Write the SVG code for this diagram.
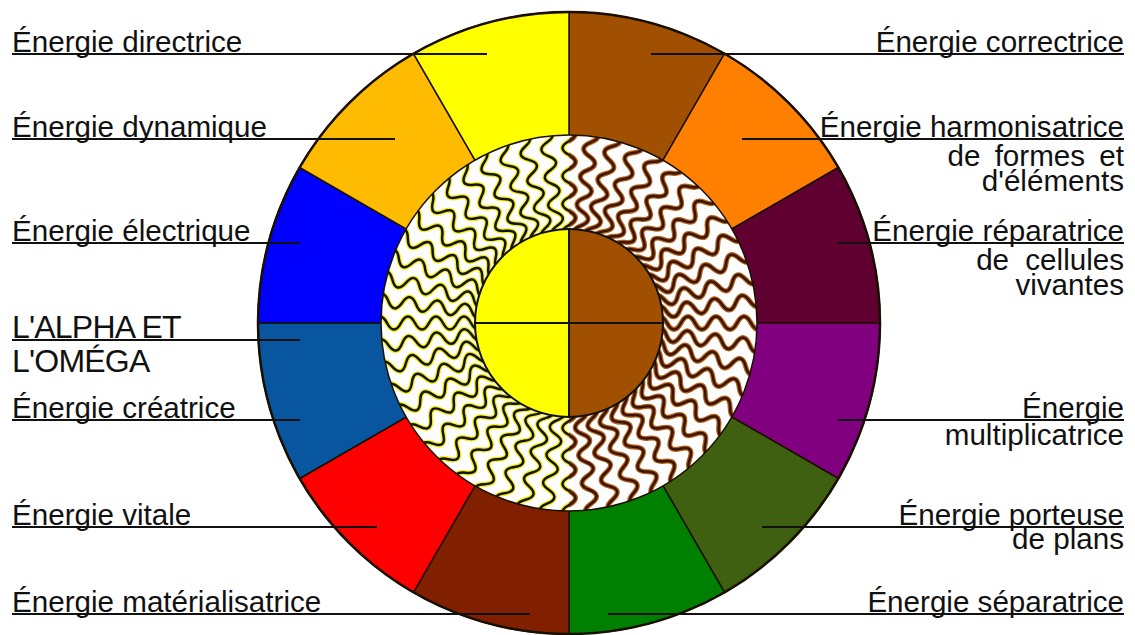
<svg xmlns="http://www.w3.org/2000/svg" xmlns:xlink="http://www.w3.org/1999/xlink" width="1135" height="635" viewBox="0 0 1135 635">
<style>
.lbl{font-family:"Liberation Sans",Arial,sans-serif;font-size:29.6px;fill:#111}
.r{text-anchor:end}
.sec{stroke:#1a1000;stroke-width:1.5}
.ul{stroke:#111;stroke-width:2;fill:none}
</style>
<defs>
<path id="w" d="M84,0 q7,-13 14,0 t14,0 t14,0 t14,0 t14,0 t14,0 t14,0 t14,0" fill="none"/>
<g id="spokes">
<use href="#w" transform="rotate(0)"/><use href="#w" transform="rotate(6.923)"/><use href="#w" transform="rotate(13.846)"/><use href="#w" transform="rotate(20.769)"/><use href="#w" transform="rotate(27.692)"/><use href="#w" transform="rotate(34.615)"/><use href="#w" transform="rotate(41.538)"/><use href="#w" transform="rotate(48.462)"/><use href="#w" transform="rotate(55.385)"/><use href="#w" transform="rotate(62.308)"/><use href="#w" transform="rotate(69.231)"/><use href="#w" transform="rotate(76.154)"/><use href="#w" transform="rotate(83.077)"/><use href="#w" transform="rotate(90)"/><use href="#w" transform="rotate(96.923)"/><use href="#w" transform="rotate(103.846)"/><use href="#w" transform="rotate(110.769)"/><use href="#w" transform="rotate(117.692)"/><use href="#w" transform="rotate(124.615)"/><use href="#w" transform="rotate(131.538)"/><use href="#w" transform="rotate(138.462)"/><use href="#w" transform="rotate(145.385)"/><use href="#w" transform="rotate(152.308)"/><use href="#w" transform="rotate(159.231)"/><use href="#w" transform="rotate(166.154)"/><use href="#w" transform="rotate(173.077)"/><use href="#w" transform="rotate(180)"/><use href="#w" transform="rotate(186.923)"/><use href="#w" transform="rotate(193.846)"/><use href="#w" transform="rotate(200.769)"/><use href="#w" transform="rotate(207.692)"/><use href="#w" transform="rotate(214.615)"/><use href="#w" transform="rotate(221.538)"/><use href="#w" transform="rotate(228.462)"/><use href="#w" transform="rotate(235.385)"/><use href="#w" transform="rotate(242.308)"/><use href="#w" transform="rotate(249.231)"/><use href="#w" transform="rotate(256.154)"/><use href="#w" transform="rotate(263.077)"/><use href="#w" transform="rotate(270)"/><use href="#w" transform="rotate(276.923)"/><use href="#w" transform="rotate(283.846)"/><use href="#w" transform="rotate(290.769)"/><use href="#w" transform="rotate(297.692)"/><use href="#w" transform="rotate(304.615)"/><use href="#w" transform="rotate(311.538)"/><use href="#w" transform="rotate(318.462)"/><use href="#w" transform="rotate(325.385)"/><use href="#w" transform="rotate(332.308)"/><use href="#w" transform="rotate(339.231)"/><use href="#w" transform="rotate(346.154)"/><use href="#w" transform="rotate(353.077)"/>
</g>
<clipPath id="clipL"><path d="M569,135 A188,188 0 0 0 569,511 Z"/></clipPath>
<clipPath id="clipR"><path d="M569,135 A188,188 0 0 1 569,511 Z"/></clipPath>
</defs>

<g id="wheel">
<path class="sec" fill="#a05000" d="M569,323 L724.5,53.67 A311,311 0 0 0 569,12 Z"/>
<path class="sec" fill="#ff8000" d="M569,323 L838.33,167.5 A311,311 0 0 0 724.5,53.67 Z"/>
<path class="sec" fill="#600030" d="M569,323 L880,323 A311,311 0 0 0 838.33,167.5 Z"/>
<path class="sec" fill="#800080" d="M569,323 L838.33,478.5 A311,311 0 0 0 880,323 Z"/>
<path class="sec" fill="#3f6010" d="M569,323 L724.5,592.33 A311,311 0 0 0 838.33,478.5 Z"/>
<path class="sec" fill="#008000" d="M569,323 L569,634 A311,311 0 0 0 724.5,592.33 Z"/>
<path class="sec" fill="#802000" d="M569,323 L413.5,592.33 A311,311 0 0 0 569,634 Z"/>
<path class="sec" fill="#ff0000" d="M569,323 L299.67,478.5 A311,311 0 0 0 413.5,592.33 Z"/>
<path class="sec" fill="#0856a0" d="M569,323 L258,323 A311,311 0 0 0 299.67,478.5 Z"/>
<path class="sec" fill="#0000ff" d="M569,323 L299.67,167.5 A311,311 0 0 0 258,323 Z"/>
<path class="sec" fill="#ffbb00" d="M569,323 L413.5,53.67 A311,311 0 0 0 299.67,167.5 Z"/>
<path class="sec" fill="#ffff00" d="M569,323 L569,12 A311,311 0 0 0 413.5,53.67 Z"/>
<circle cx="569" cy="323" r="311" fill="none" stroke="#1a1000" stroke-width="2.5"/>
</g>

<g id="ring">
<circle cx="569" cy="323" r="188" fill="#fdfdfd"/>
<g clip-path="url(#clipL)">
<use href="#spokes" transform="translate(569,323)" stroke="#f2ee10" stroke-width="5"/>
<use href="#spokes" transform="translate(569,323)" stroke="#141400" stroke-width="2.5"/>
</g>
<g clip-path="url(#clipR)">
<use href="#spokes" transform="translate(569,323)" stroke="#b06018" stroke-width="5"/>
<use href="#spokes" transform="translate(569,323)" stroke="#3a1400" stroke-width="2.5"/>
</g>
<circle cx="569" cy="323" r="188" fill="none" stroke="#1a1000" stroke-width="1.5"/>
</g>

<g id="core">
<path fill="#ffff00" d="M569,229 A94,94 0 0 0 569,417 Z"/>
<path fill="#a05000" d="M569,229 A94,94 0 0 1 569,417 Z"/>
<line x1="569" y1="229" x2="569" y2="417" stroke="#111" stroke-width="2"/>
<line x1="475" y1="323" x2="663" y2="323" stroke="#111" stroke-width="2"/>
<circle cx="569" cy="323" r="94" fill="none" stroke="#111" stroke-width="2"/>
</g>

<g id="connectors">
<line class="ul" x1="12" y1="54" x2="487" y2="54"/>
<line class="ul" x1="12" y1="139" x2="395" y2="139"/>
<line class="ul" x1="12" y1="243" x2="300" y2="243"/>
<line class="ul" x1="12" y1="340" x2="300" y2="340"/>
<line class="ul" x1="12" y1="420" x2="300" y2="420"/>
<line class="ul" x1="12" y1="527" x2="377" y2="527"/>
<line class="ul" x1="12" y1="614" x2="530" y2="614"/>
<line class="ul" x1="651" y1="54" x2="1124" y2="54"/>
<line class="ul" x1="742" y1="139" x2="1124" y2="139"/>
<line class="ul" x1="838" y1="243" x2="1124" y2="243"/>
<line class="ul" x1="838" y1="420" x2="1124" y2="420"/>
<line class="ul" x1="762" y1="527" x2="1124" y2="527"/>
<line class="ul" x1="608" y1="614" x2="1124" y2="614"/>
</g>

<g id="label-directrice"><text class="lbl" x="12" y="52">Énergie directrice</text></g>
<g id="label-dynamique"><text class="lbl" x="12" y="137">Énergie dynamique</text></g>
<g id="label-electrique"><text class="lbl" x="12" y="241">Énergie électrique</text></g>
<g id="label-alpha"><text class="lbl" x="12" y="338" style="font-size:32px" letter-spacing="-0.8">L'ALPHA ET</text><text class="lbl" x="12" y="372" style="font-size:32px" letter-spacing="-0.8">L'OMÉGA</text></g>
<g id="label-creatrice"><text class="lbl" x="12" y="418">Énergie créatrice</text></g>
<g id="label-vitale"><text class="lbl" x="12" y="525">Énergie vitale</text></g>
<g id="label-materialisatrice"><text class="lbl" x="12" y="612">Énergie matérialisatrice</text></g>

<g id="label-correctrice"><text class="lbl r" x="1124" y="52">Énergie correctrice</text></g>
<g id="label-harmonisatrice"><text class="lbl r" x="1124" y="137">Énergie harmonisatrice</text><text class="lbl r" x="1124" y="166" word-spacing="6">de formes et</text><text class="lbl r" x="1124" y="191">d'éléments</text></g>
<g id="label-reparatrice"><text class="lbl r" x="1124" y="241">Énergie réparatrice</text><text class="lbl r" x="1124" y="270" word-spacing="8">de cellules</text><text class="lbl r" x="1124" y="295">vivantes</text></g>
<g id="label-multiplicatrice"><text class="lbl r" x="1124" y="418">Énergie</text><text class="lbl r" x="1124" y="445">multiplicatrice</text></g>
<g id="label-porteuse"><text class="lbl r" x="1124" y="525">Énergie porteuse</text><text class="lbl r" x="1124" y="549">de plans</text></g>
<g id="label-separatrice"><text class="lbl r" x="1124" y="612">Énergie séparatrice</text></g>
</svg>
